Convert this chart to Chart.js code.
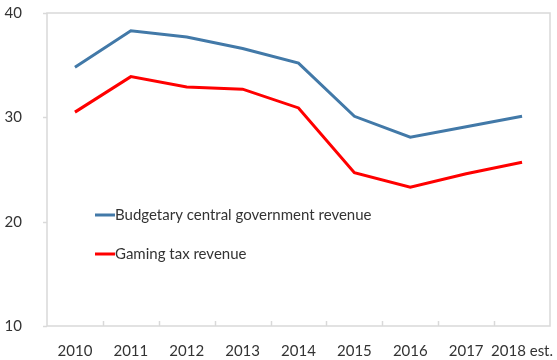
<!DOCTYPE html>
<html>
<head>
<meta charset="utf-8">
<script src="https://cdn.jsdelivr.net/npm/chart.js@4"></script>
<style>
  html, body { margin: 0; padding: 0; background: #fff; }
  #wrap { width: 557px; height: 360px; }
</style>
</head>
<body>
<div id="wrap"><canvas id="revChart" width="557" height="360"></canvas></div>
<script>
const years = ['2010', '2011', '2012', '2013', '2014', '2015', '2016', '2017', '2018 est.'];
const budgetRevenue = [34.8, 38.3, 37.7, 36.6, 35.2, 30.1, 28.1, 29.1, 30.1];
const gamingRevenue = [30.5, 33.9, 32.9, 32.7, 30.9, 24.7, 23.3, 24.6, 25.7];
const yTicks = [10, 20, 30, 40];

const FONT = 'Lato, "Noto Sans", sans-serif';
const AXIS_GRAY = '#d9d9d9';

// frame around the plot, small tick marks between the years, and the inset legend
const framePlugin = {
  id: 'frame',
  afterDraw(chart) {
    const { ctx, chartArea: a, scales } = chart;
    ctx.save();
    ctx.strokeStyle = AXIS_GRAY;
    ctx.lineWidth = 1.5;
    ctx.strokeRect(a.left, a.top, a.right - a.left, a.bottom - a.top);

    // category separators on the x axis, pointing up into the plot
    const x = scales.x;
    for (let i = 1; i < years.length; i++) {
      const px = Math.round((x.getPixelForValue(i - 1) + x.getPixelForValue(i)) / 2) + 0.5;
      ctx.beginPath();
      ctx.moveTo(px, a.bottom);
      ctx.lineTo(px, a.bottom - 5);
      ctx.stroke();
    }

    // y axis ticks, outside on the left
    const y = scales.y;
    yTicks.forEach(v => {
      const py = Math.round(y.getPixelForValue(v)) + 0.5;
      ctx.beginPath();
      ctx.moveTo(a.left - 4, py);
      ctx.lineTo(a.left, py);
      ctx.stroke();
    });

    // legend
    ctx.font = '15px ' + FONT;
    ctx.textBaseline = 'middle';
    ctx.fillStyle = '#333';
    chart.data.datasets.forEach((ds, i) => {
      const ly = a.top + 202 + i * 39;
      const lx = a.left + 48;
      ctx.strokeStyle = ds.borderColor;
      ctx.lineWidth = 3;
      ctx.beginPath();
      ctx.moveTo(lx, ly);
      ctx.lineTo(lx + 20, ly);
      ctx.stroke();
      ctx.fillText(ds.label, lx + 20, ly);
    });
    ctx.restore();
  }
};

new Chart(document.getElementById('revChart'), {
  type: 'line',
  data: {
    labels: years,
    datasets: [
      {
        label: 'Budgetary central government revenue',
        data: budgetRevenue,
        borderColor: '#4279a8',
        borderWidth: 3,
        pointRadius: 0,
        tension: 0
      },
      {
        label: 'Gaming tax revenue',
        data: gamingRevenue,
        borderColor: '#ff0000',
        borderWidth: 3,
        pointRadius: 0,
        tension: 0
      }
    ]
  },
  options: {
    responsive: false,
    animation: false,
    layout: { padding: { left: 0, top: 13, right: 7, bottom: 0 } },
    plugins: {
      legend: { display: false },
      tooltip: { enabled: false }
    },
    scales: {
      x: {
        offset: true,
        grid: { display: false },
        border: { display: false },
        ticks: {
          color: '#333',
          font: { family: FONT, size: 15 },
          padding: 8,
          maxRotation: 0,
          autoSkip: false
        },
        afterFit(scale) {
          scale.height = 34;
          scale.paddingLeft = 0;
          scale.paddingRight = 0;
        }
      },
      y: {
        min: 10,
        max: 40,
        grid: { display: false },
        border: { display: false },
        ticks: {
          stepSize: 10,
          color: '#333',
          font: { family: FONT, size: 15 },
          padding: 17
        },
        afterFit(scale) {
          scale.width = 47;
          scale.paddingTop = 0;
          scale.paddingBottom = 0;
        }
      }
    }
  },
  plugins: [framePlugin]
});
</script>
</body>
</html>
